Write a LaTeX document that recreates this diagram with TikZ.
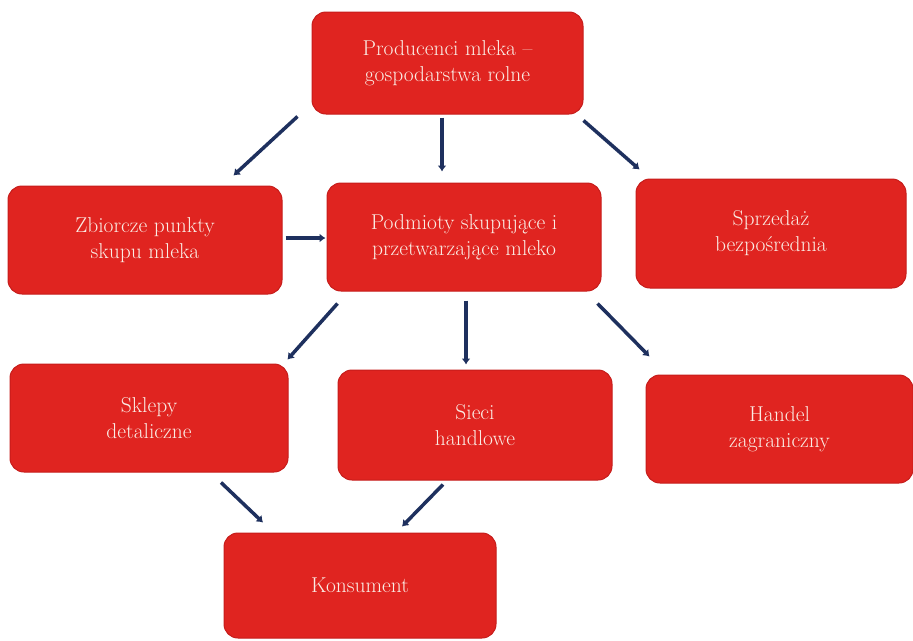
\documentclass[tikz,border=0pt]{standalone}
\usetikzlibrary{arrows.meta}
\definecolor{boxred}{RGB}{224,36,32}
\definecolor{boxedge}{RGB}{198,28,26}
\definecolor{arrowblue}{RGB}{30,48,94}
\definecolor{txtcream}{RGB}{250,236,228}

\begin{document}
\begin{tikzpicture}[x=1pt, y=-1pt,
    box/.style={draw=boxedge, line width=1pt, fill=boxred, rounded corners=14pt,
        text=txtcream, align=center, inner sep=0pt,
        font=\fontsize{21.5}{26}\selectfont},
    arr/.style={draw=arrowblue, line width=3.5pt, -{Latex[length=6pt,width=9pt]}}]
    \useasboundingbox (0,0) rectangle (913,640);

    \node[box, minimum width=271pt, minimum height=102pt] (prod) at (447.5,63) {Producenci mleka –\\gospodarstwa rolne};
    \node[box, minimum width=274pt, minimum height=108pt] (zbior) at (145,240) {Zbiorcze punkty\\skupu mleka};
    \node[box, minimum width=274pt, minimum height=108pt] (podm) at (464,237) {Podmioty skupujące i\\przetwarzające mleko};
    \node[box, minimum width=270pt, minimum height=109pt] (sprz) at (771,233.5) {Sprzedaż\\bezpośrednia};
    \node[box, minimum width=278pt, minimum height=108pt] (sklep) at (149,418) {Sklepy\\detaliczne};
    \node[box, minimum width=274pt, minimum height=110pt] (sieci) at (475,425) {Sieci\\handlowe};
    \node[box, minimum width=267pt, minimum height=108pt] (handel) at (779.5,429) {Handel\\zagraniczny};
    \node[box, minimum width=272pt, minimum height=105pt] (kons) at (360,585.5) {Konsument};

    \draw[arr] ([xshift=-14pt,yshift=-2pt]prod.south west) -- ([xshift=-49pt,yshift=10pt]zbior.north east);
    \draw[arr] ([xshift=-5.5pt,yshift=-3pt]prod.south) -- ([xshift=-22pt,yshift=11pt]podm.north);
    \draw[arr] ([yshift=-6pt]prod.south east) -- ([xshift=4pt,yshift=9pt]sprz.north west);
    \draw[arr] ([xshift=3pt,yshift=2pt]zbior.east) -- ([xshift=-1pt,yshift=-1pt]podm.west);
    \draw[arr] ([xshift=11pt,yshift=-12pt]podm.south west) -- ([xshift=-1pt,yshift=4pt]sklep.north east);
    \draw[arr] ([xshift=2pt,yshift=-9pt]podm.south) -- ([xshift=-9pt,yshift=5pt]sieci.north);
    \draw[arr] ([xshift=-4pt,yshift=-12pt]podm.south east) -- ([xshift=4pt,yshift=18pt]handel.north west);
    \draw[arr] ([xshift=72pt,yshift=-10pt]sklep.south) -- ([xshift=-97pt,yshift=10pt]kons.north);
    \draw[arr] ([xshift=-32pt,yshift=-4pt]sieci.south) -- ([xshift=42pt,yshift=6pt]kons.north);
\end{tikzpicture}
\end{document}
